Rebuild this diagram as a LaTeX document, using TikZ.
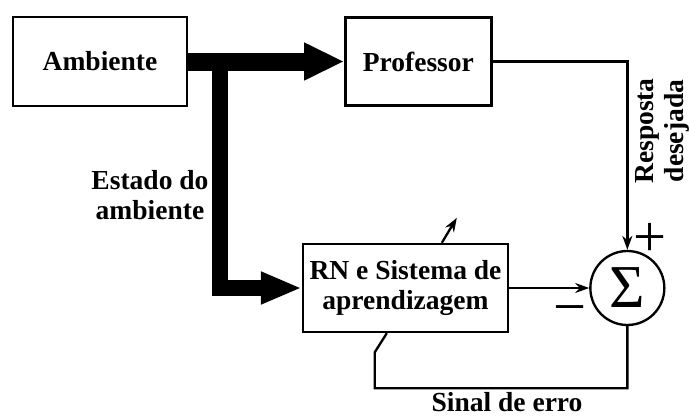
\documentclass[tikz,border=0pt]{standalone}
\usepackage{fontspec}
\setmainfont{Liberation Serif}
\usepackage{tikz}
\usetikzlibrary{arrows.meta,positioning,calc}

\begin{document}
\begin{tikzpicture}[
    x=0.03cm, y=-0.03cm,
    box/.style={rectangle, draw, line width=2pt, align=center, inner sep=0pt,
        font=\fontsize{23.5}{25.5}\selectfont\bfseries},
    lbl/.style={align=center, inner sep=0pt, font=\fontsize{23.5}{25.5}\selectfont\bfseries},
    sign/.style={inner sep=0pt, font=\fontsize{50}{50}\selectfont},
    line/.style={line width=2pt},
    arrow/.style={line width=2pt, -{Stealth[length=0.42cm, width=0.3cm]}},
    bigarrow/.style={line width=0.54cm, -{Triangle[length=1.2cm, width=1.05cm]}},
    midarrow/.style={line width=0.48cm, -{Triangle[length=1.23cm, width=0.9cm]}}
]
\useasboundingbox (0,0) rectangle (690,417);

\node[box, minimum width=5.22cm, minimum height=2.67cm] (amb) at (100,61.5) {Ambiente};
\node[box, minimum width=4.38cm, minimum height=2.64cm, right=4.68cm of amb] (prof) {Professor};
\node[box, minimum width=6.15cm, minimum height=2.64cm] (rn) at (405.5,288) {RN e Sistema de\\aprendizagem};
\node[circle, draw, line width=2pt, minimum size=2.22cm, inner sep=0pt,
    font=\fontsize{52}{52}\selectfont, right=2.4cm of rn] (sum) {Σ};

\coordinate (split) at (220,61.5);
\coordinate (fbend) at ($(rn.south west)+(73,19)$);
\coordinate (fend) at ($(rn.south west)+(85,0)$);
\coordinate (adj) at ($(rn.north west)+(140,0)$);

\draw[bigarrow] (amb.east) -- (prof.west);
\draw[midarrow] (split) |- (rn.west);
\draw[arrow] (prof.east) -| (sum.north);
\draw[arrow] (rn.east) -- (sum.west);
\draw[line] (sum.south) -- ++(0,62) -| (fbend) -- (fend);
\draw[arrow] (adj) -- ++(15,-25);

\node[lbl] (estado) at (150,195) {Estado do\\ambiente};
\node[lbl, rotate=90] (resp) at (662,131) {Resposta\\desejada};
\node[lbl] (erro) at (507,402) {Sinal de erro};
\node[sign] (plus) at (650,240) {+};
\node[sign] (minus) at (570,316) {−};
\end{tikzpicture}
\end{document}
